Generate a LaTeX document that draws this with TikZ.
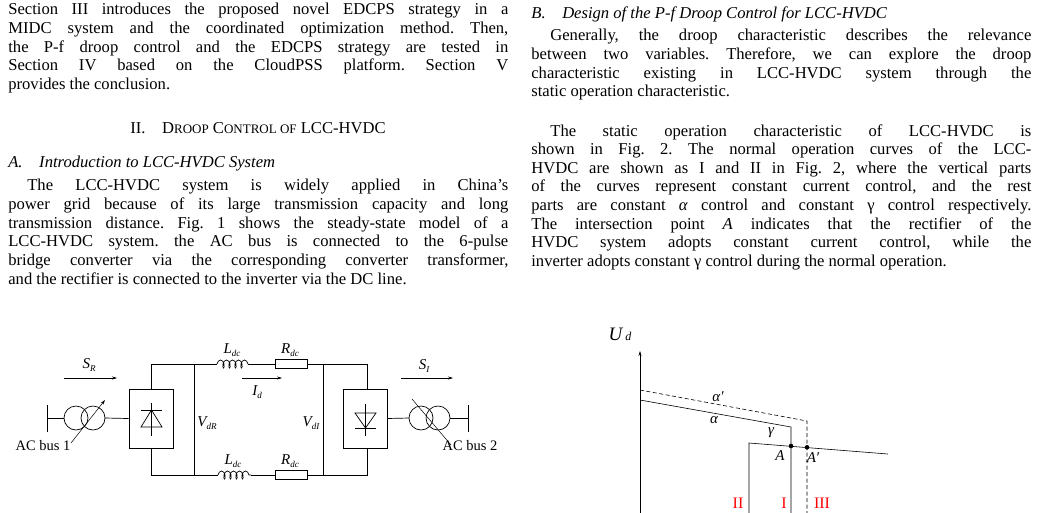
\documentclass[tikz,border=0pt]{standalone}
\usepackage{fontspec}
\setmainfont{Liberation Serif}
\usetikzlibrary{arrows.meta,decorations.pathmorphing}
\newcommand{\sbs}[2]{#1\raisebox{-3pt}{\fontsize{9}{9}\selectfont #2}}
\begin{document}
\frenchspacing
\begin{tikzpicture}[x=1pt,y=-1pt,line width=0.7pt,
  para/.style={anchor=north west,inner sep=0,text width=500pt,align=justify,font=\fontsize{16.6}{18.65}\selectfont\frenchspacing},
  lab/.style={inner sep=0,font=\fontsize{15}{15}\selectfont\itshape},
  cvt/.style={draw,minimum width=44pt,minimum height=59pt,inner sep=0},
  res/.style={draw,minimum width=32pt,minimum height=9pt,inner sep=0},
  flow/.style={-{Stealth[length=5pt,width=3pt]},line width=0.5pt}]
\useasboundingbox (0,0) rectangle (1038,512);
% left column text
\node[para] (p1) at (8,3) {Section III introduces the proposed novel EDCPS strategy in a\linebreak MIDC system and the coordinated optimization method. Then,\linebreak the P-f droop control and the EDCPS strategy are tested in\linebreak Section IV based on the CloudPSS platform. Section V\linebreak provides the conclusion.};
\node[inner sep=0,font=\fontsize{16.6}{17}\selectfont] (h1) at (258,128) {II.\quad D{\fontsize{13}{13}\selectfont ROOP} C{\fontsize{13}{13}\selectfont ONTROL OF} LCC-HVDC};
\node[inner sep=0,anchor=west,font=\fontsize{16.6}{17}\selectfont\itshape] (h2) at (8,164) {A.\quad Introduction to LCC-HVDC System};
\node[para] (p2) at (8,179) {\hspace*{19pt}The LCC-HVDC system is widely applied in China's\linebreak power grid because of its large transmission capacity and long\linebreak transmission distance. Fig. 1 shows the steady-state model of a\linebreak LCC-HVDC system. the AC bus is connected to the 6-pulse\linebreak bridge converter via the corresponding converter transformer,\linebreak and the rectifier is connected to the inverter via the DC line.};
% right column text
\node[inner sep=0,anchor=west,font=\fontsize{16.6}{17}\selectfont\itshape] (h3) at (531,14) {B.\quad Design of the P-f Droop Control for LCC-HVDC};
\node[para] (p3) at (531,29) {\hspace*{19pt}Generally, the droop characteristic describes the relevance\linebreak between two variables. Therefore, we can explore the droop\linebreak characteristic existing in LCC-HVDC system through the\linebreak static operation characteristic.};
\node[para] (p4) at (531,124) {\hspace*{19pt}The static operation characteristic of LCC-HVDC is\linebreak shown in Fig. 2. The normal operation curves of the LCC-\linebreak HVDC are shown as I and II in Fig. 2, where the vertical parts\linebreak of the curves represent constant current control, and the rest\linebreak parts are constant \textit{α} control and constant γ control respectively.\linebreak The intersection point \textit{A} indicates that the rectifier of the\linebreak HVDC system adopts constant current control, while the\linebreak inverter adopts constant γ control during the normal operation.};
% ---- circuit ----
\node[cvt] (rb) at (151,418.5) {};
\node[cvt] (ib) at (365,418.5) {};
\coordinate (tl) at (151,364); \coordinate (tr) at (367,364);
\coordinate (bl) at (151,475); \coordinate (br) at (367,475);
\draw (rb.north) -- (tl) -- (217,364);
\draw[decorate,decoration={coil,aspect=0.5,segment length=6pt,amplitude=4pt}] (217,364) -- (248,364);
\node[res] (r1) at (291,364) {};
\draw (248,364) -- (r1.west); \draw (r1.east) -- (tr) -- ([xshift=2pt]ib.north);
\draw (rb.south) -- (bl) -- (218,475);
\draw[decorate,decoration={coil,aspect=0.5,segment length=6pt,amplitude=4pt}] (218,475) -- (251,475);
\node[res] (r2) at (291,475) {};
\draw (251,475) -- (r2.west); \draw (r2.east) -- (br) -- ([xshift=2pt]ib.south);
\draw (194,364) -- (194,475);
\draw (323,364) -- (323,475);
% diodes
\draw (141,427) -- (162,427) -- (151.5,410) -- cycle;
\draw (141,410) -- (162,410); \draw (151.5,403) -- (151.5,436);
\draw (355,413) -- (376,413) -- (365.5,428) -- cycle;
\draw (355,428) -- (376,428); \draw (365.5,404) -- (365.5,436);
% labels
\node[lab] (l1) at (232,350) {\sbs{L}{dc}};
\node[lab] (l2) at (290,350) {\sbs{R}{dc}};
\node[lab] (l3) at (233,461) {\sbs{L}{dc}};
\node[lab] (l4) at (290,461) {\sbs{R}{dc}};
\draw[flow] (242,378) -- (282,378);
\node[lab] (id) at (257,392) {\sbs{I}{d}};
\draw[flow] (64,378) -- (117,378);
\node[lab] (sr) at (89,365) {\sbs{S}{R}};
\draw[flow] (401,378) -- (453,378);
\node[lab] (si) at (424,366) {\sbs{S}{I}};
\node[lab] (vr) at (207,423) {\sbs{V}{dR}};
\node[lab] (vi) at (311,423) {\sbs{V}{dI}};
% left transformer
\draw (47,405) -- (47,432);
\draw (47,418) -- (64,418);
\draw (76,418) circle (12); \draw (93,418) circle (12);
\draw (105,418) -- (rb.west);
\draw[-{Stealth[length=5pt,width=3pt]},line width=0.5pt] (71,443) -- (105,400);
\node[inner sep=0,font=\fontsize{14.5}{14}\selectfont] (ac1) at (43,446) {AC bus 1};
% right transformer
\draw (ib.east) -- (409,418);
\draw (421,418) circle (12); \draw (438,418) circle (12);
\draw (450,418) -- (468,418); \draw (468,405) -- (468,432);
\draw[line width=0.5pt] (412,399) -- (451,445);
\node[inner sep=0,font=\fontsize{14.5}{14}\selectfont] (ac2) at (470,446) {AC bus 2};
% ---- chart ----
\draw[-{Stealth[length=5pt,width=3pt]},line width=0.5pt] (640,515) -- (640,351);
\node[inner sep=0,font=\fontsize{19}{20}\selectfont\itshape] (ud) at (620,334) {U\,{\fontsize{12}{12}\selectfont d}};
\draw[line width=0.6pt] (640,400) -- (791,427) -- (791,515);
\draw[line width=0.6pt,dashed,dash pattern=on 4pt off 2.5pt] (640,390) -- (807,421) -- (807,515);
\draw[line width=0.6pt] (749,515) -- (749,443) -- (888,454);
\fill (791,446) circle (2.3); \fill (807,447.3) circle (2.3);
\node[lab] at (718,397) {α′};
\node[lab] at (714,420) {α};
\node[lab] at (771,433) {γ};
\node[lab] at (780,456) {A};
\node[lab] at (813,458) {A′};
\node[inner sep=0,text=red,font=\fontsize{16}{16}\selectfont] at (738,503) {II};
\node[inner sep=0,text=red,font=\fontsize{16}{16}\selectfont] at (784,503) {I};
\node[inner sep=0,text=red,font=\fontsize{16}{16}\selectfont] at (822,503) {III};
\end{tikzpicture}
\end{document}
